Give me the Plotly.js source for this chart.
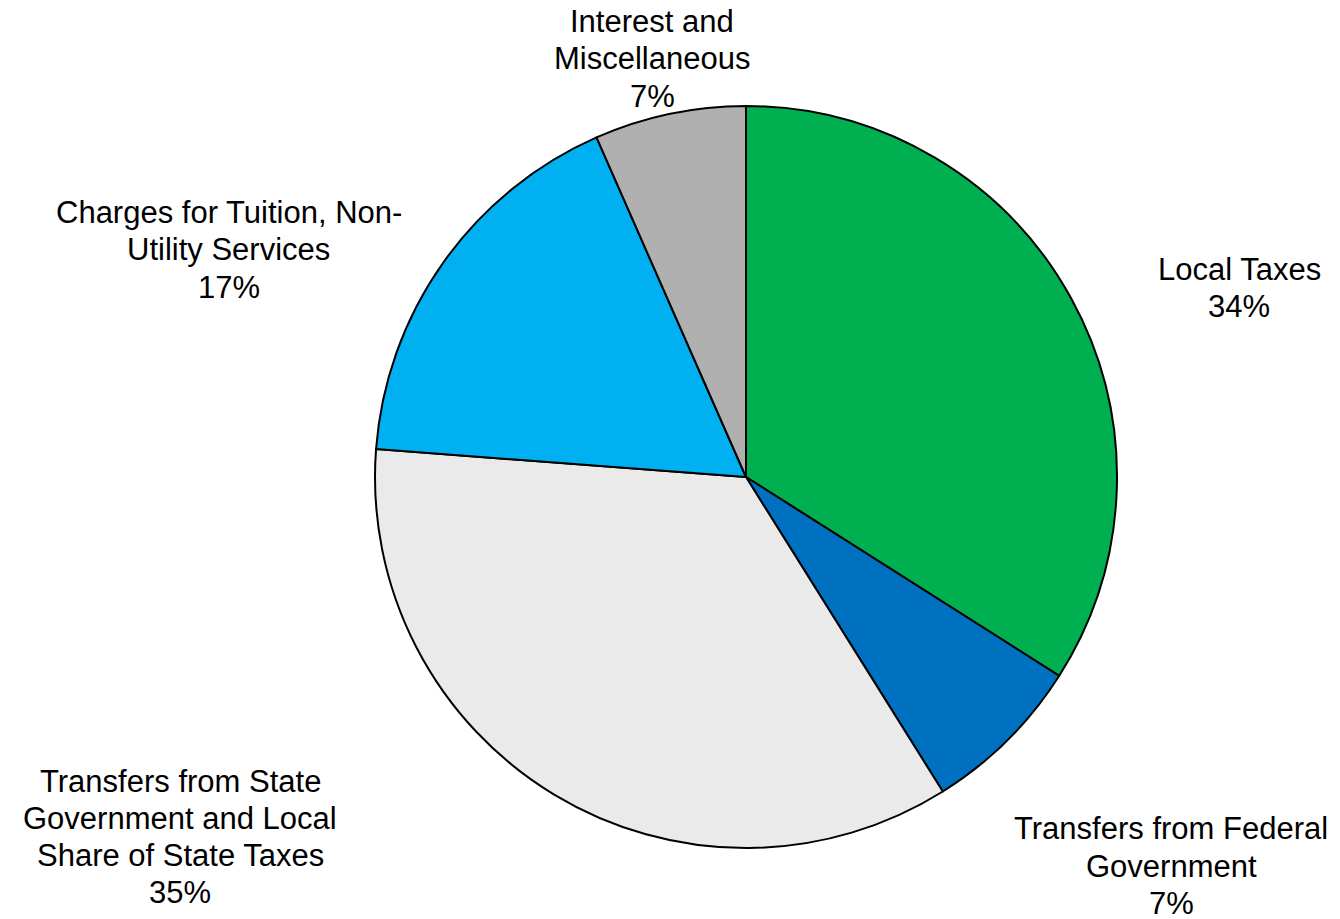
<!DOCTYPE html>
<html>
<head>
<meta charset="utf-8">
<script src="https://cdn.plot.ly/plotly-3.0.1.min.js"></script>
<style>html,body{margin:0;padding:0;background:#fff;}#chart{width:1340px;height:919px;}</style>
</head>
<body>
<div id="chart"></div>
<script>
const categories = ["Local Taxes", "Transfers from Federal Government", "Transfers from State Government and Local Share of State Taxes", "Charges for Tuition, Non-Utility Services", "Interest and Miscellaneous"];
const labelLines = [["Local Taxes"], ["Transfers from Federal", "Government"], ["Transfers from State", "Government and Local", "Share of State Taxes"], ["Charges for Tuition, Non-", "Utility Services"], ["Interest and", "Miscellaneous"]];
const values = [34.0, 7.1, 35.1, 17.2, 6.6];
const colors = ["#00B050", "#0070C0", "#EAEAEA", "#00B0F0", "#B0B0B0"];
// label block centres (pixels in the 1340x919 frame)
const labelPos = [[1239, 288], [1171, 866], [180, 837], [229, 250], [652, 59]];

const W = 1340, H = 919, LINE = 37.3, FS = 31;
const total = values.reduce((a, b) => a + b, 0);
const annotations = [];
categories.forEach((c, i) => {
  const lines = labelLines[i].concat([Math.round(values[i] / total * 100) + "%"]);
  const n = lines.length;
  lines.forEach((t, k) => {
    const py = labelPos[i][1] + (k - (n - 1) / 2) * LINE;
    annotations.push({
      xref: "paper", yref: "paper",
      x: labelPos[i][0] / W, y: 1 - py / H,
      xanchor: "center", yanchor: "middle", align: "center",
      showarrow: false, text: t, borderpad: 0,
      font: {family: "Liberation Sans, Arial, sans-serif", size: FS, color: "#000"}
    });
  });
});

const cx = 746, cy = 477, r = 371;
Plotly.newPlot("chart", [{
  type: "pie",
  labels: categories,
  values: values,
  sort: false,
  direction: "clockwise",
  rotation: 0,
  textinfo: "none",
  hoverinfo: "label+percent",
  marker: {colors: colors, line: {color: "#000", width: 2}},
  domain: {x: [(cx - r) / W, (cx + r) / W], y: [(H - cy - r) / H, (H - cy + r) / H]}
}], {
  width: W, height: H,
  margin: {l: 0, r: 0, t: 0, b: 0},
  showlegend: false,
  paper_bgcolor: "#fff",
  annotations: annotations
}, {displayModeBar: false, staticPlot: true});
</script>
</body>
</html>
